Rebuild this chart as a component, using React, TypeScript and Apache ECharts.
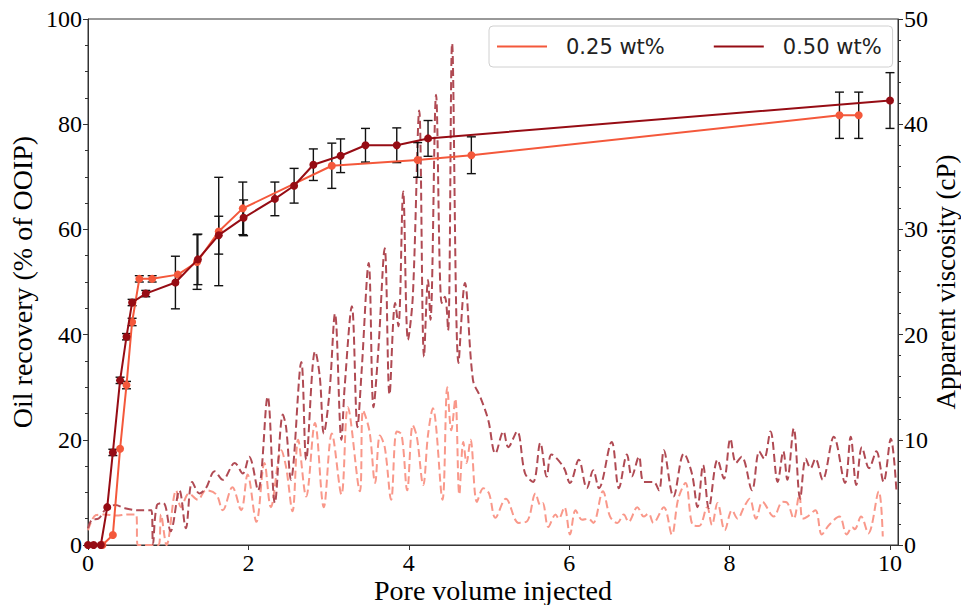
import React, { useEffect, useRef } from "react";
import * as echarts from "echarts";

// Oil recovery (% of OOIP), with error bar half-widths
const rec25X = [0.18, 0.31, 0.40, 0.48, 0.55, 0.64, 0.80, 1.12, 1.36, 1.63, 1.93, 3.04, 4.11, 4.78, 9.37, 9.61];
const rec25Y = [0, 1.9, 18.3, 30.4, 42.4, 50.6, 50.6, 51.4, 53.8, 59.6, 64.0, 72.1, 73.2, 74.1, 81.7, 81.7];
const rec25Err = [0, 0, 0, 0.7, 0.7, 0.6, 0.6, 0, 5.2, 10.3, 5.0, 4.3, 3.3, 3.5, 4.4, 4.4];

const rec50X = [0, 0.07, 0.16, 0.24, 0.31, 0.40, 0.48, 0.55, 0.72, 1.09, 1.37, 1.63, 1.94, 2.33, 2.57, 2.81, 3.15, 3.46, 3.85, 4.24, 10.0];
const rec50Y = [0, 0, 0, 7.2, 17.6, 31.3, 39.6, 46.1, 47.8, 49.9, 54.3, 58.9, 62.2, 65.8, 68.3, 72.3, 74.0, 76.0, 76.0, 77.3, 84.5];
const rec50Err = [0, 0, 0, 0, 0.6, 0.6, 0.6, 0.6, 0.6, 5.0, 4.8, 3.6, 3.4, 3.2, 3.3, 3.0, 3.2, 3.2, 3.3, 3.4, 5.3];

// Apparent viscosity (cP)
const visc25X = [0.00, 0.10, 0.20, 0.35, 0.50, 0.60, 0.62, 0.88, 0.91, 0.98, 1.10, 1.16, 1.26, 1.37, 1.47, 1.60, 1.68, 1.80, 1.91, 1.99,
  2.10, 2.20, 2.28, 2.41, 2.47, 2.55, 2.62, 2.72, 2.83, 2.94, 3.04, 3.16, 3.24, 3.39, 3.43, 3.51, 3.58, 3.64, 3.70, 3.78,
  3.85, 3.91, 3.98, 4.05, 4.10, 4.18, 4.24, 4.30, 4.42, 4.48, 4.53, 4.58, 4.63, 4.68, 4.72, 4.77, 4.85, 4.93, 5.00, 5.08,
  5.21, 5.37, 5.48, 5.58, 5.64, 5.67, 5.74, 5.83, 5.87, 5.94, 6.01, 6.08, 6.16, 6.24, 6.30, 6.42, 6.51, 6.60, 6.68, 6.74,
  6.85, 6.93, 6.99, 7.05, 7.18, 7.28, 7.36, 7.45, 7.54, 7.62, 7.72, 7.78, 7.85, 7.94, 8.03, 8.10, 8.18, 8.25, 8.33, 8.41,
  8.55, 8.66, 8.72, 8.80, 8.87, 8.91, 8.97, 9.07, 9.15, 9.24, 9.37, 9.46, 9.53, 9.56, 9.64, 9.73, 9.86, 9.91];
const visc25Y = [1.4, 2.85, 2.9, 2.8, 2.9, 2.9, 0.0, 0.0, 2.9, 0.0, 5.2, 3.6, 4.9, 4.3, 5.2, 4.8, 3.3, 5.5, 3.3, 6.7,
  2.2, 7.8, 3.6, 9.0, 7.4, 3.2, 10.0, 4.6, 11.6, 3.6, 10.6, 4.8, 13.1, 5.1, 12.8, 10.8, 5.9, 10.4, 9.3, 4.3,
  10.8, 10.5, 5.2, 11.4, 10.3, 5.7, 10.5, 13.0, 4.3, 15.0, 10.9, 13.9, 4.8, 9.8, 7.8, 10.0, 4.1, 5.4, 4.9, 2.6,
  4.4, 2.1, 2.3, 4.9, 3.8, 4.0, 1.7, 2.9, 2.5, 3.6, 1.0, 3.3, 2.4, 2.5, 2.1, 5.1, 2.7, 2.1, 2.9, 2.2,
  3.6, 2.7, 3.0, 2.1, 3.6, 1.0, 4.4, 5.9, 1.9, 1.8, 3.6, 1.9, 4.0, 1.4, 3.3, 2.5, 3.6, 4.4, 2.5, 4.1,
  2.7, 4.1, 4.0, 2.5, 4.8, 2.5, 2.7, 3.3, 1.0, 1.9, 2.7, 1.0, 1.7, 1.5, 2.7, 1.1, 5.1, 0.8];

const visc50X = [0.00, 0.05, 0.13, 0.21, 0.34, 0.46, 0.63, 0.79, 0.81, 0.86, 0.94, 1.03, 1.14, 1.22, 1.30, 1.39, 1.47, 1.58, 1.68, 1.83,
  1.93, 2.01, 2.12, 2.24, 2.33, 2.43, 2.47, 2.53, 2.66, 2.72, 2.80, 2.83, 2.89, 2.94, 3.01, 3.08, 3.16, 3.20, 3.29, 3.36,
  3.41, 3.50, 3.56, 3.62, 3.70, 3.76, 3.83, 3.87, 3.93, 3.99, 4.05, 4.13, 4.19, 4.24, 4.27, 4.34, 4.41, 4.45, 4.49, 4.54,
  4.62, 4.70, 4.80, 4.89, 4.99, 5.08, 5.18, 5.24, 5.35, 5.45, 5.55, 5.64, 5.72, 5.78, 5.93, 6.01, 6.12, 6.22, 6.30, 6.37,
  6.53, 6.62, 6.72, 6.78, 6.87, 6.93, 7.05, 7.12, 7.18, 7.30, 7.43, 7.53, 7.60, 7.67, 7.74, 7.85, 7.93, 8.01, 8.08, 8.15,
  8.28, 8.37, 8.43, 8.51, 8.60, 8.67, 8.72, 8.80, 8.88, 8.95, 9.01, 9.07, 9.16, 9.30, 9.44, 9.51, 9.58, 9.65, 9.74, 9.83,
  9.92, 10.01, 10.08];
const visc50Y = [1.6, 2.4, 2.5, 3.3, 3.8, 3.5, 3.3, 3.3, 0.1, 3.8, 4.0, 1.3, 5.2, 1.6, 6.0, 4.9, 5.4, 7.0, 6.2, 7.8,
  6.8, 8.4, 5.2, 14.1, 4.0, 12.4, 11.2, 6.2, 17.4, 8.1, 16.9, 18.4, 16.0, 10.6, 14.4, 22.0, 10.0, 15.0, 22.7, 11.2,
  16.3, 26.8, 13.1, 18.5, 28.2, 14.3, 23.0, 20.8, 33.6, 19.5, 23.6, 41.3, 17.9, 25.2, 21.4, 42.8, 23.0, 23.6, 20.4, 47.7,
  17.3, 24.9, 15.7, 14.1, 11.9, 8.7, 10.8, 9.3, 10.8, 6.8, 6.0, 9.7, 6.5, 8.6, 7.4, 5.9, 8.1, 5.4, 7.1, 5.4,
  9.8, 5.4, 8.6, 6.5, 8.4, 6.0, 6.0, 5.2, 9.0, 4.6, 8.7, 6.8, 3.6, 7.6, 3.5, 8.1, 6.3, 10.1, 7.8, 8.4,
  5.2, 8.9, 8.2, 10.8, 6.0, 8.9, 6.2, 11.1, 4.4, 8.2, 7.3, 8.2, 6.2, 10.3, 5.9, 10.3, 5.7, 9.3, 7.3, 8.9,
  6.0, 10.1, 5.2];

const xTicks = [0, 2, 4, 6, 8, 10];
const seriesNames = ["0.25 wt%", "0.50 wt%"];

const C25 = "#f4583b";
const C50 = "#960c14";
const C25V = "#f9988a";
const C50V = "#b04a53";
const SERIF = "Liberation Serif";

function errData(xs: number[], ys: number[], es: number[]) {
  const out: number[][] = [];
  xs.forEach((x, i) => {
    if (es[i] > 0) out.push([x, ys[i] - es[i], ys[i] + es[i]]);
  });
  return out;
}

function errRender(params: any, api: any) {
  const x = api.value(0);
  const p1 = api.coord([x, api.value(1)]);
  const p2 = api.coord([x, api.value(2)]);
  const hw = 4.5;
  const style = { stroke: "#111", lineWidth: 1.4 };
  return {
    type: "group",
    children: [
      { type: "line", shape: { x1: p1[0], y1: p1[1], x2: p2[0], y2: p2[1] }, style },
      { type: "line", shape: { x1: p1[0] - hw, y1: p1[1], x2: p1[0] + hw, y2: p1[1] }, style },
      { type: "line", shape: { x1: p2[0] - hw, y1: p2[1], x2: p2[0] + hw, y2: p2[1] }, style },
    ],
  };
}

const zip = (xs: number[], ys: number[]) => xs.map((x, i) => [x, ys[i]]);

export default function App() {
  const ref = useRef<HTMLDivElement>(null);
  useEffect(() => {
    if (!ref.current) return;
    const chart = echarts.init(ref.current, undefined, { renderer: "svg" });
    const axisColor = "#333";
    chart.setOption({
      animation: false,
      backgroundColor: "#fff",
      grid: {
        left: 88, top: 19, width: 810, height: 526,
        outerBoundsMode: "none", containLabel: false,
        show: true, borderColor: axisColor, borderWidth: 1, backgroundColor: "transparent",
      },
      legend: {
        data: seriesNames,
        left: 489,
        top: 26,
        icon: "rect",
        itemWidth: 50,
        itemHeight: 2,
        itemGap: 49,
        padding: [10, 11, 10, 8],
        borderColor: "#d0d0d0",
        borderWidth: 1,
        borderRadius: 4,
        backgroundColor: "rgba(255,255,255,0.85)",
        textStyle: { fontFamily: "DejaVu Sans", fontSize: 21, color: "#222", padding: [0, 0, 0, 14] },
      },
      xAxis: {
        type: "value",
        min: 0,
        max: 10.1,
        interval: 2,
        name: "Pore volume injected",
        nameLocation: "middle",
        nameGap: 31,
        nameMoveOverlap: false,
        nameTextStyle: { fontFamily: SERIF, fontSize: 28, color: "#000" },
        splitLine: { show: false },
        axisLine: { lineStyle: { color: axisColor, width: 1 } },
        axisTick: { length: 5, lineStyle: { color: axisColor }, customValues: xTicks },
        axisLabel: {
          customValues: xTicks,
          fontFamily: SERIF,
          fontSize: 24,
          color: "#000",
          margin: 6,
          formatter: (v: number) => (xTicks.indexOf(v) >= 0 ? String(v) : ""),
        },
      },
      yAxis: [
        {
          type: "value",
          min: 0,
          max: 100,
          interval: 20,
          name: "Oil recovery (% of OOIP)",
          nameLocation: "middle",
          nameRotate: 90,
          nameGap: 52,
          nameMoveOverlap: false,
          nameTextStyle: { fontFamily: SERIF, fontSize: 28, color: "#000" },
          splitLine: { show: false },
          axisLine: { show: true, lineStyle: { color: axisColor, width: 1 } },
          axisTick: { show: true, length: 5, lineStyle: { color: axisColor } },
          minorTick: { show: true, splitNumber: 4, length: 3, lineStyle: { color: axisColor } },
          axisLabel: { fontFamily: SERIF, fontSize: 24, color: "#000", margin: 6 },
        },
        {
          type: "value",
          position: "right",
          min: 0,
          max: 50,
          interval: 10,
          name: "Apparent viscosity (cP)",
          nameLocation: "middle",
          nameRotate: 90,
          nameGap: 34,
          nameMoveOverlap: false,
          nameTextStyle: { fontFamily: SERIF, fontSize: 27, color: "#000" },
          splitLine: { show: false },
          axisLine: { show: true, lineStyle: { color: axisColor, width: 1 } },
          axisTick: { show: true, length: 5, lineStyle: { color: axisColor } },
          minorTick: { show: true, splitNumber: 5, length: 3, lineStyle: { color: axisColor } },
          axisLabel: { fontFamily: SERIF, fontSize: 24, color: "#000", margin: 6 },
        },
      ],
      series: [
        {
          name: "visc25",
          type: "line",
          yAxisIndex: 1,
          data: zip(visc25X, visc25Y),
          showSymbol: false,
          symbol: "none",
          smooth: 0.35,
          lineStyle: { color: C25V, width: 2, type: [8, 4] },
          z: 2,
          silent: true,
        },
        {
          name: "visc50",
          type: "line",
          yAxisIndex: 1,
          data: zip(visc50X, visc50Y),
          showSymbol: false,
          symbol: "none",
          smooth: 0.35,
          lineStyle: { color: C50V, width: 2, type: [8, 4] },
          z: 2,
          silent: true,
        },
        {
          name: "err25",
          type: "custom",
          data: errData(rec25X, rec25Y, rec25Err),
          encode: { x: 0, y: [1, 2] },
          renderItem: errRender,
          z: 3,
          silent: true,
        },
        {
          name: "err50",
          type: "custom",
          data: errData(rec50X, rec50Y, rec50Err),
          encode: { x: 0, y: [1, 2] },
          renderItem: errRender,
          z: 3,
          silent: true,
        },
        {
          name: seriesNames[0],
          type: "line",
          data: zip(rec25X, rec25Y),
          symbol: "circle",
          symbolSize: 8,
          itemStyle: { color: C25 },
          lineStyle: { color: C25, width: 2 },
          z: 4,
        },
        {
          name: seriesNames[1],
          type: "line",
          data: zip(rec50X, rec50Y),
          symbol: "circle",
          symbolSize: 8,
          itemStyle: { color: C50 },
          lineStyle: { color: C50, width: 2 },
          z: 5,
        },
      ],
    });
    return () => chart.dispose();
  }, []);
  return <div ref={ref} style={{ position: "fixed", left: 0, top: 0, width: 961, height: 605 }} />;
}
